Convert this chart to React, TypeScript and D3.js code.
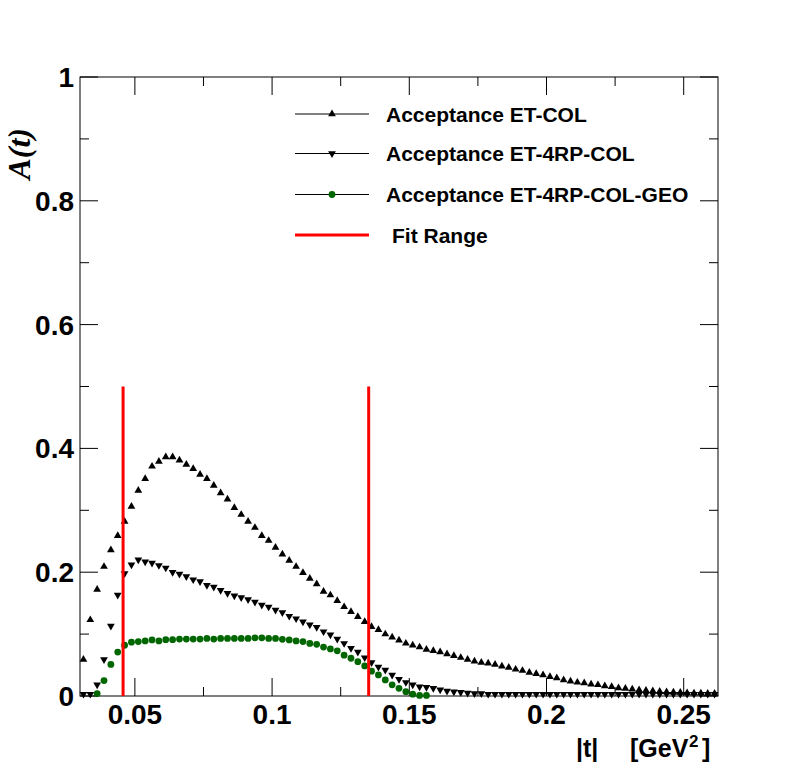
import React from "react";
import * as d3 from "d3";

// ---------- data ----------
const tMin = 0.03;
const tMax = 0.2625;
const binWidth = 0.0025;

const etCol: (number | null)[] = [
  0.059, 0.123, 0.172, 0.209, 0.236, 0.259, 0.282, 0.306, 0.332, 0.351,
  0.371, 0.379, 0.386, 0.386, 0.381, 0.374, 0.367, 0.358, 0.351, 0.340,
  0.328, 0.318, 0.304, 0.293, 0.282, 0.272, 0.259, 0.251, 0.240, 0.229,
  0.219, 0.209, 0.199, 0.190, 0.181, 0.169, 0.163, 0.154, 0.144, 0.136,
  0.128, 0.120, 0.112, 0.107, 0.100, 0.095, 0.090, 0.085, 0.082, 0.079,
  0.075, 0.073, 0.071, 0.068, 0.065, 0.062, 0.059, 0.056, 0.054, 0.053,
  0.051, 0.048, 0.046, 0.043, 0.041, 0.038, 0.036, 0.034, 0.031, 0.029,
  0.026, 0.024, 0.022, 0.021, 0.019, 0.018, 0.016, 0.015, 0.013, 0.012,
  0.011, 0.0097, 0.0088, 0.008, 0.0072, 0.0065, 0.006, 0.0055, 0.005, 0.0045,
  0.0043, 0.004, 0.004,
];

const et4rpCol: (number | null)[] = [
  0.003, 0.003, 0.018, 0.059, 0.113, 0.163, 0.198, 0.212, 0.220, 0.217,
  0.215, 0.211, 0.207, 0.200, 0.197, 0.193, 0.188, 0.185, 0.179, 0.176,
  0.171, 0.166, 0.162, 0.159, 0.156, 0.152, 0.147, 0.144, 0.139, 0.135,
  0.129, 0.125, 0.120, 0.115, 0.111, 0.104, 0.099, 0.092, 0.085, 0.077,
  0.071, 0.062, 0.054, 0.047, 0.042, 0.034, 0.027, 0.022, 0.018, 0.015,
  0.014, 0.0125, 0.010, 0.008, 0.007, 0.006, 0.005, 0.004, 0.004, 0.003,
  0.003, 0.003, 0.003, 0.003, 0.003, 0.003, 0.003, 0.003, 0.003, 0.003,
  0.003, 0.003, 0.003, 0.003, 0.003, 0.003, 0.003, 0.003, 0.003, 0.003,
  0.003, 0.003, 0.003, 0.003, 0.003, 0.003, 0.003, 0.003, 0.003, 0.003,
  0.003, 0.003, 0.003,
];

const et4rpColGeo: (number | null)[] = [
  null, null, 0.004, 0.025, 0.051, 0.071, 0.082, 0.087, 0.088, 0.089,
  0.0905, 0.089, 0.091, 0.091, 0.092, 0.092, 0.092, 0.092, 0.093, 0.092,
  0.093, 0.093, 0.093, 0.093, 0.093, 0.094, 0.094, 0.093, 0.093, 0.0915,
  0.0905, 0.089, 0.088, 0.085, 0.0835, 0.079, 0.076, 0.073, 0.066, 0.061,
  0.0555, 0.0485, 0.040, 0.034, 0.026, 0.018, 0.0125, 0.007, 0.003, 0.001,
  0.001,
];

const fitRange = [0.0457, 0.1352];
const fitLineTop = 0.5;

const xMajorTicks = [0.05, 0.1, 0.15, 0.2, 0.25];
const xMajorLabels = ["0.05", "0.1", "0.15", "0.2", "0.25"];
const xMinorTicks = [0.075, 0.125, 0.175, 0.225];
const yMajorTicks = [0, 0.2, 0.4, 0.6, 0.8, 1];
const yMajorLabels = ["0", "0.2", "0.4", "0.6", "0.8", "1"];
const yMinorTicks = [0.1, 0.3, 0.5, 0.7, 0.9];

const legendLabels = [
  "Acceptance ET-COL",
  "Acceptance ET-4RP-COL",
  "Acceptance ET-4RP-COL-GEO",
  "Fit Range",
];

// ---------- layout ----------
const W = 798;
const H = 774;
const L = 80;
const R = 718;
const T = 77;
const B = 696;
const FONT = "'Liberation Sans', Arial, Helvetica, sans-serif";
const GREEN = "#006600";
const RED = "#ff0000";

const x = d3.scaleLinear().domain([tMin, tMax]).range([L, R]);
const y = d3.scaleLinear().domain([0, 1]).range([B, T]);

const centers = (vals: (number | null)[]) =>
  vals.map((v, i) => ({ t: tMin + binWidth * (i + 0.5), v }));

const triUp = d3.symbol().type(d3.symbolTriangle).size(26)()!;
const circ = d3.symbol().type(d3.symbolCircle).size(36)()!;

function Markers({ vals, kind }: { vals: (number | null)[]; kind: string }) {
  const pts = centers(vals).filter((p) => p.v !== null);
  return (
    <g>
      {pts.map((p, i) => {
        const cx = x(p.t);
        const cy = y(p.v as number);
        if (kind === "circle")
          return <path key={i} d={circ} transform={`translate(${cx},${cy})`} fill={GREEN} />;
        if (kind === "down")
          return <path key={i} d={triUp} transform={`translate(${cx},${cy}) rotate(180)`} fill="#000" />;
        return <path key={i} d={triUp} transform={`translate(${cx},${cy})`} fill="#000" />;
      })}
    </g>
  );
}

export default function App() {
  const legendRows = [114, 153.5, 194.5, 235];
  return (
    <svg
      width={W}
      height={H}
      style={{ position: "absolute", left: 0, top: 0, background: "#fff" }}
      fontFamily={FONT}
    >
      <rect x={0} y={0} width={W} height={H} fill="#fff" />
      {/* frame */}
      <rect x={L} y={T} width={R - L} height={B - T} fill="none" stroke="#000" strokeWidth={1} />

      {/* x ticks bottom & top */}
      {xMajorTicks.map((t, i) => (
        <g key={"xm" + i}>
          <line x1={x(t)} x2={x(t)} y1={B} y2={B - 18} stroke="#000" />
          <line x1={x(t)} x2={x(t)} y1={T} y2={T + 18} stroke="#000" />
          <text x={x(t)} y={724} fontSize={28} fontWeight="bold" textAnchor="middle">
            {xMajorLabels[i]}
          </text>
        </g>
      ))}
      {xMinorTicks.map((t, i) => (
        <g key={"xn" + i}>
          <line x1={x(t)} x2={x(t)} y1={B} y2={B - 9} stroke="#000" />
          <line x1={x(t)} x2={x(t)} y1={T} y2={T + 9} stroke="#000" />
        </g>
      ))}
      {/* y ticks left & right */}
      {yMajorTicks.map((v, i) => (
        <g key={"ym" + i}>
          <line x1={L} x2={L + 18} y1={y(v)} y2={y(v)} stroke="#000" />
          <line x1={R} x2={R - 18} y1={y(v)} y2={y(v)} stroke="#000" />
          <text x={74} y={y(v) + 10} fontSize={28} fontWeight="bold" textAnchor="end">
            {yMajorLabels[i]}
          </text>
        </g>
      ))}
      {yMinorTicks.map((v, i) => (
        <g key={"yn" + i}>
          <line x1={L} x2={L + 9} y1={y(v)} y2={y(v)} stroke="#000" />
          <line x1={R} x2={R - 9} y1={y(v)} y2={y(v)} stroke="#000" />
        </g>
      ))}

      {/* axis titles */}
      <text x={576} y={757} fontSize={25} fontWeight="bold">|t|</text>
      <text x={630} y={757} fontSize={25} fontWeight="bold">[GeV</text>
      <text x={689} y={747} fontSize={17} fontWeight="bold">2</text>
      <text x={702} y={757} fontSize={25} fontWeight="bold">]</text>
      <text
        transform="translate(30,128) rotate(-90)"
        textAnchor="end"
        fontFamily="'Liberation Serif', 'Times New Roman', serif"
        fontStyle="italic"
        fontWeight="bold"
        fontSize={32}
      >
        A(t)
      </text>

      {/* data */}
      <Markers vals={etCol} kind="up" />
      <Markers vals={et4rpCol} kind="down" />
      <Markers vals={et4rpColGeo} kind="circle" />

      {/* fit range */}
      {fitRange.map((t, i) => (
        <line key={"fr" + i} x1={x(t)} x2={x(t)} y1={y(0)} y2={y(fitLineTop)} stroke={RED} strokeWidth={3} />
      ))}

      {/* legend */}
      {legendRows.map((ry, i) => (
        <g key={"lg" + i}>
          {i < 3 ? (
            <>
              <line x1={295} x2={369} y1={ry} y2={ry} stroke="#000" strokeWidth={1} />
              {i === 0 && <path d={triUp} transform={`translate(332,${ry})`} fill="#000" />}
              {i === 1 && <path d={triUp} transform={`translate(332,${ry}) rotate(180)`} fill="#000" />}
              {i === 2 && <path d={circ} transform={`translate(332,${ry})`} fill={GREEN} />}
            </>
          ) : (
            <line x1={295} x2={369} y1={ry} y2={ry} stroke={RED} strokeWidth={3} />
          )}
          <text x={i < 3 ? 386 : 392} y={ry + 7.5} fontSize={21} fontWeight="bold">
            {legendLabels[i]}
          </text>
        </g>
      ))}
    </svg>
  );
}
